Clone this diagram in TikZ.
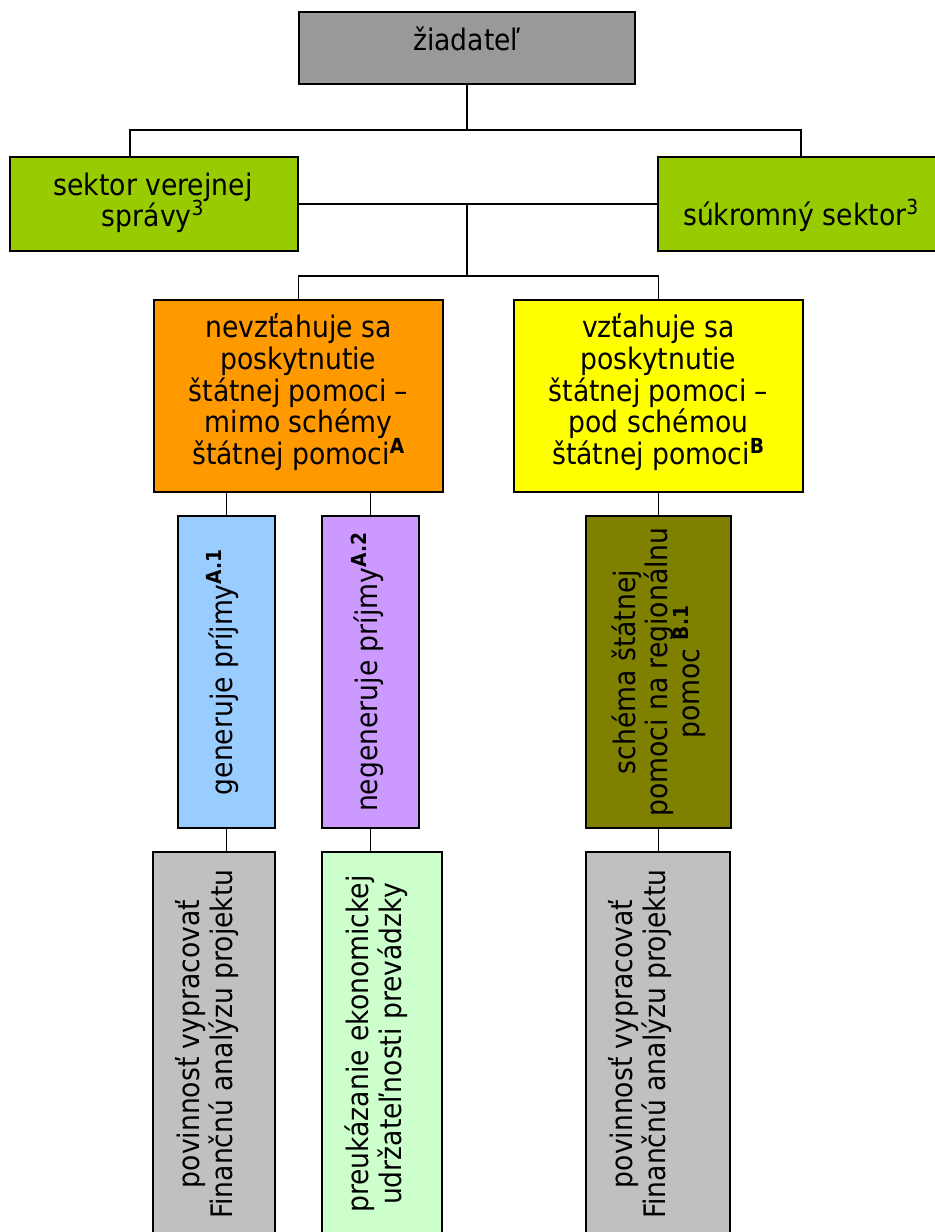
\documentclass[tikz,border=0pt]{standalone}
\usepackage{fontspec}
\setmainfont{DejaVu Sans Condensed}
\definecolor{cZi}{HTML}{999999}
\definecolor{cGr}{HTML}{99CC00}
\definecolor{cOr}{HTML}{FF9900}
\definecolor{cYe}{HTML}{FFFF00}
\definecolor{cBl}{HTML}{99CCFF}
\definecolor{cPu}{HTML}{CC99FF}
\definecolor{cOl}{HTML}{808000}
\definecolor{cGy}{HTML}{C0C0C0}
\definecolor{cLg}{HTML}{CCFFCC}
\newcommand\supB[1]{\textsuperscript{\textbf{#1}}}
\begin{document}
\begin{tikzpicture}[x=0.75pt,y=-0.75pt,
  box/.style n args={2}{draw=black, line width=1.4pt, inner sep=0pt, outer sep=0pt,
    minimum width={#1*0.75pt}, minimum height={#2*0.75pt}},
  conn/.style={line width=1.1pt},
  lbl/.style={anchor=base, inner sep=0pt, font=\fontsize{22.2}{24}\selectfont},
  vlbl/.style={lbl, rotate=90}]
\useasboundingbox (0,0) rectangle (935,1232);
\clip (0,0) rectangle (935,1232);
\fill[white] (0,0) rectangle (935,1232);

% boxes
\node[box={336}{72}, fill=cZi] (zi) at (467,48) {};
\node[box={288}{94}, fill=cGr] (sv) at (154,204) {};
\node[box={286}{94}, fill=cGr] (sk) at (801,204) {};
\node[box={289}{192}, fill=cOr] (nor) at (298.5,396) {};
\node[box={289}{192}, fill=cYe] (nye) at (658.5,396) {};
\node[box={97}{312}, fill=cBl] (bl) at (226.5,672) {};
\node[box={97}{312}, fill=cPu] (pu) at (370.5,672) {};
\node[box={145}{312}, fill=cOl] (ol) at (658.5,672) {};
\node[box={122}{384}, fill=cGy] (g1) at (214,1044) {};
\node[box={120}{384}, fill=cLg] (g2) at (382,1044) {};
\node[box={144}{384}, fill=cGy] (g3) at (658,1044) {};

% connectors
\coordinate (j1) at (467,130);
\coordinate (cL) at (130,0);
\coordinate (j2) at (467,204);
\coordinate (j3) at (467,276);
\draw[conn] (zi.south) -- (j1);
\draw[conn] (j1) -| (sv.north -| cL);
\draw[conn] (j1) -| (sk.north);
\draw[conn] (sv.east) -- (sk.west);
\draw[conn] (j2) -- (j3);
\draw[conn] (j3) -| (nor.north);
\draw[conn] (j3) -| (nye.north);
\draw[conn] (bl.north) -- (bl.north |- nor.south);
\draw[conn] (pu.north) -- (pu.north |- nor.south);
\draw[conn] (nye.south) -- (ol.north);
\draw[conn] (bl.south) -- (bl.south |- g1.north);
\draw[conn] (pu.south) -- (pu.south |- g2.north);
\draw[conn] (ol.south) -- (ol.south |- g3.north);

% texts
\node[lbl] (tzi) at (467,50) {žiadateľ};
\node[lbl] (tsv1) at (153,195) {sektor verejnej};
\node[lbl] (tsv2) at (153,226) {správy\textsuperscript{3}};
\node[lbl] (tsk) at (801,225) {súkromný sektor\textsuperscript{3}};

\node[lbl] (tor1) at (298.5,337) {nevzťahuje sa};
\node[lbl] (tor2) at (298.5,369) {poskytnutie};
\node[lbl] (tor3) at (298.5,401) {štátnej pomoci –};
\node[lbl] (tor4) at (298.5,432) {mimo schémy};
\node[lbl] (tor5) at (298.5,464) {štátnej pomoci\supB{A}};

\node[lbl] (tye1) at (658.5,337) {vzťahuje sa};
\node[lbl] (tye2) at (658.5,369) {poskytnutie};
\node[lbl] (tye3) at (658.5,401) {štátnej pomoci –};
\node[lbl] (tye4) at (658.5,432) {pod schémou};
\node[lbl] (tye5) at (658.5,464) {štátnej pomoci\supB{B}};

\node[vlbl] (tbl) at (232,672) {generuje príjmy\supB{A.1}};
\node[vlbl] (tpu) at (377,672) {negeneruje príjmy\supB{A.2}};
\node[vlbl] (tol1) at (635,672) {schéma štátnej};
\node[vlbl] (tol2) at (667,672) {pomoci na regionálnu};
\node[vlbl] (tol3) at (699,672) {pomoc \supB{B.1}};

\node[vlbl] (tg11) at (199,1044) {povinnosť vypracovať};
\node[vlbl] (tg12) at (232,1044) {Finančnú analýzu projektu};
\node[vlbl] (tg21) at (368,1044) {preukázanie ekonomickej};
\node[vlbl] (tg22) at (401,1044) {udržateľnosti prevádzky};
\node[vlbl] (tg31) at (632,1044) {povinnosť vypracovať};
\node[vlbl] (tg32) at (665,1044) {Finančnú analýzu projektu};
\end{tikzpicture}
\end{document}
